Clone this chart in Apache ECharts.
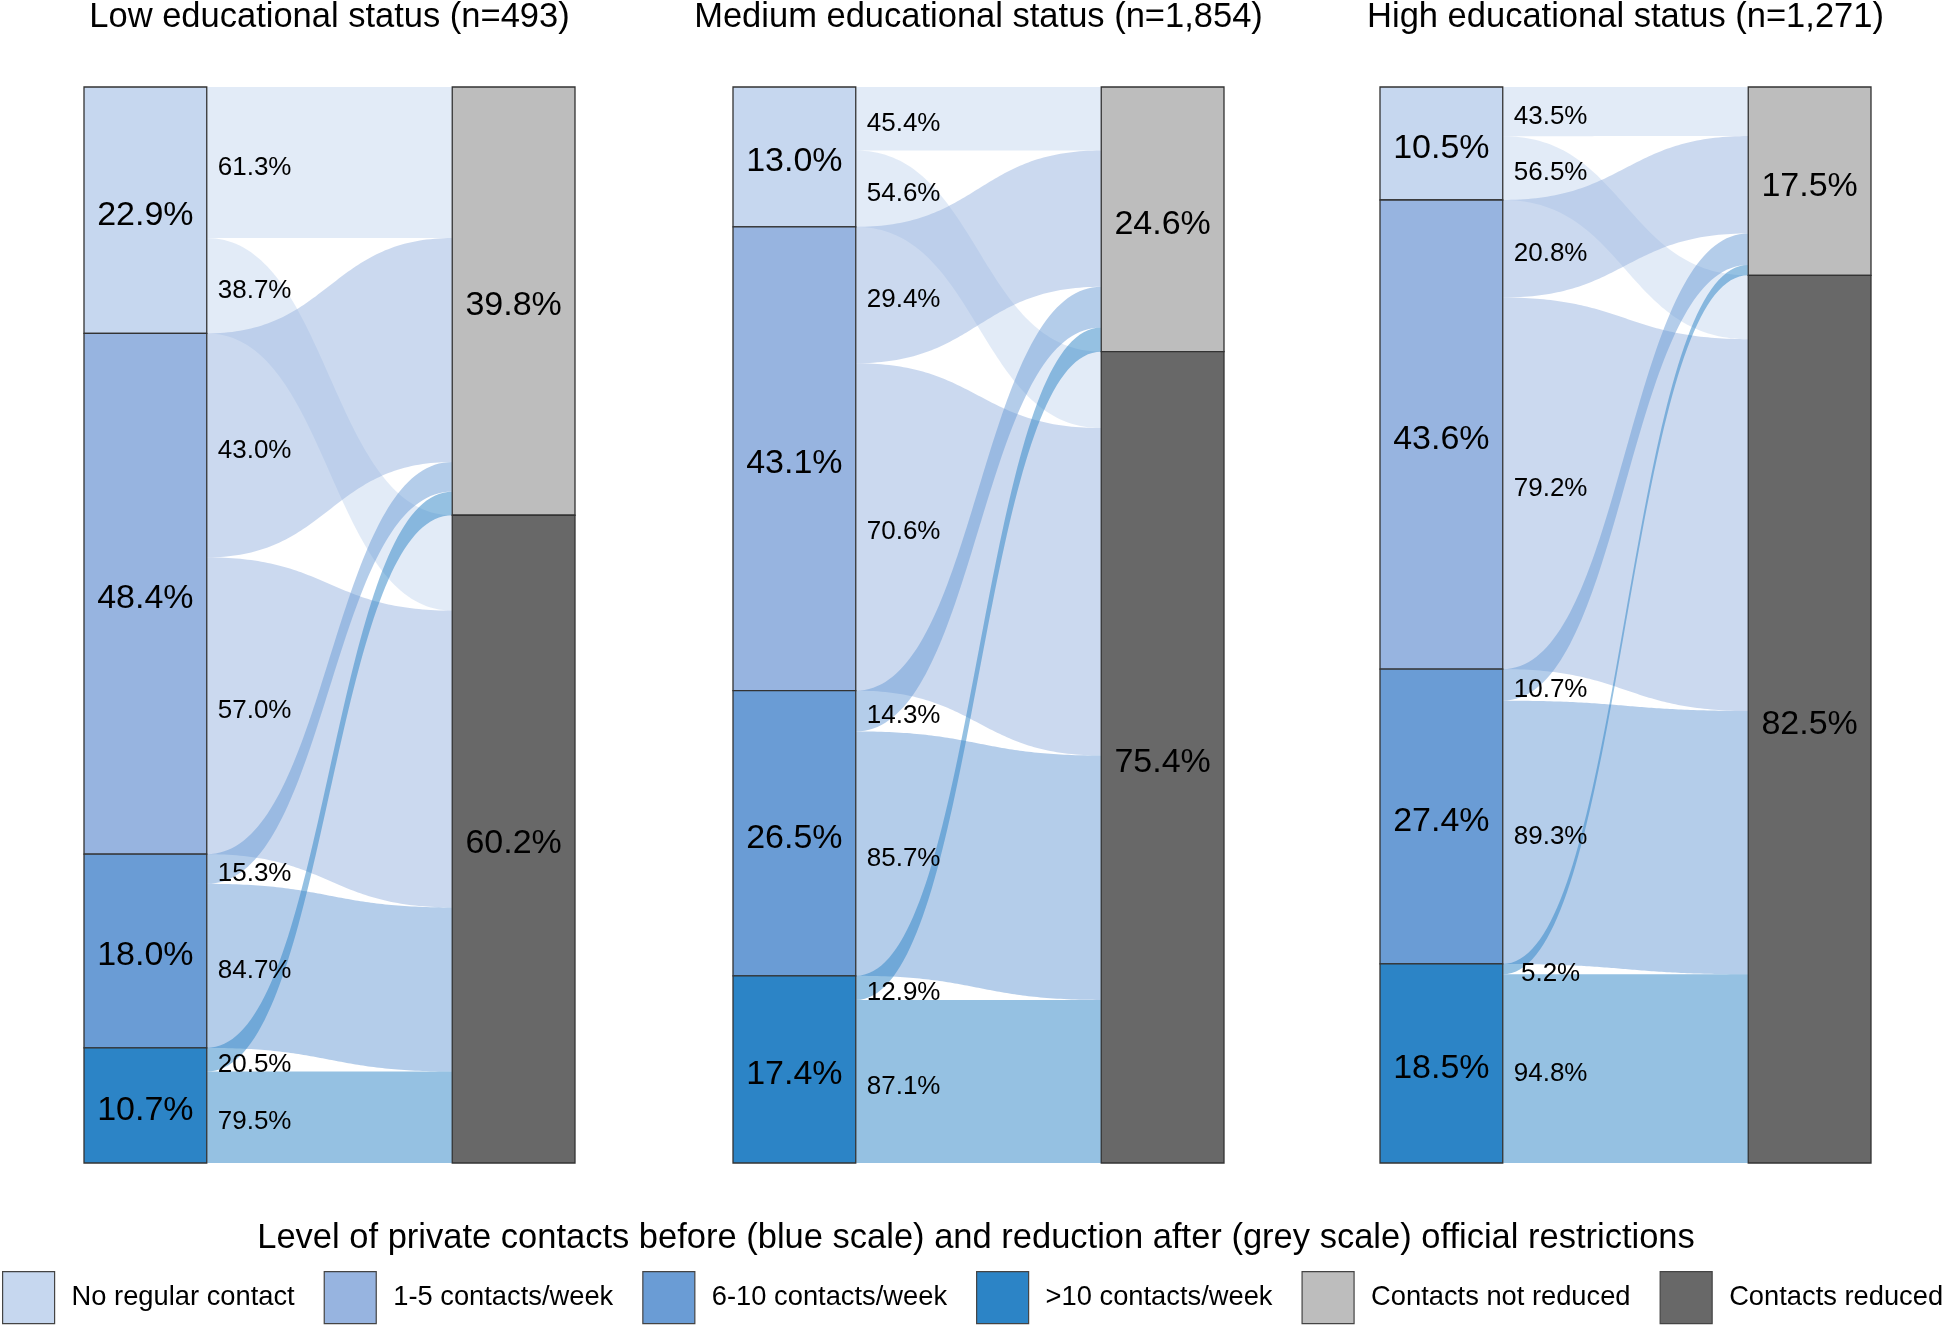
<!DOCTYPE html>
<html>
<head>
<meta charset="utf-8">
<script src="https://cdn.jsdelivr.net/npm/echarts@6/dist/echarts.min.js"></script>
<style>
html,body{margin:0;padding:0;background:#ffffff;}
#chart{width:1944px;height:1325px;}
</style>
</head>
<body>
<div id="chart"></div>
<script>
// ---------------- data ----------------
const panelTitles = [
  'Low educational status (n=493)',
  'Medium educational status (n=1,854)',
  'High educational status (n=1,271)'
];
const beforeCategories = ['No regular contact', '1-5 contacts/week', '6-10 contacts/week', '>10 contacts/week'];
const afterCategories = ['Contacts not reduced', 'Contacts reduced'];
const legendTitle = 'Level of private contacts before (blue scale) and reduction after (grey scale) official restrictions';

// share (%) of each panel in the before categories
const beforeLow = [22.9, 48.4, 18.0, 10.7];
const beforeMedium = [13.0, 43.1, 26.5, 17.4];
const beforeHigh = [10.5, 43.6, 27.4, 18.5];
// share (%) of each panel in the after categories
const afterLow = [39.8, 60.2];
const afterMedium = [24.6, 75.4];
const afterHigh = [17.5, 82.5];
// within each before category: % not reduced / % reduced
const notReducedLow = [61.3, 43.0, 15.3, 20.5];
const reducedLow = [38.7, 57.0, 84.7, 79.5];
const notReducedMedium = [45.4, 29.4, 14.3, 12.9];
const reducedMedium = [54.6, 70.6, 85.7, 87.1];
const notReducedHigh = [43.5, 20.8, 10.7, 5.2];
const reducedHigh = [56.5, 79.2, 89.3, 94.8];

// ---------------- style ----------------
const FONT = '"Liberation Sans", Arial, Helvetica, sans-serif';
const beforeColors = ['#c6d7ef', '#97b4e0', '#6a9cd5', '#2c84c6'];
const afterColors = ['#bdbdbd', '#686868'];
const nodeBorder = '#333333';
const flowAlpha = 0.5;
const gridLefts = [84, 733, 1380];
const gridTop = 87, gridWidth = 491, gridHeight = 1076;
const curveCtrl = 0.5;
const labelDy = 5;

const panels = [
  {before: beforeLow, after: afterLow, shares: [notReducedLow, reducedLow]},
  {before: beforeMedium, after: afterMedium, shares: [notReducedMedium, reducedMedium]},
  {before: beforeHigh, after: afterHigh, shares: [notReducedHigh, reducedHigh]}
];

function hexToRgba(hex, a) {
  const n = parseInt(hex.slice(1), 16);
  return 'rgba(' + ((n >> 16) & 255) + ',' + ((n >> 8) & 255) + ',' + (n & 255) + ',' + a + ')';
}
function fmt(v) {
  const s = v.toFixed(1);
  return (s.length < 4 ? ' ' : '') + s + '%';
}

function buildPanel(P) {
  const nodes = [];
  let c = 0;
  P.before.forEach((v, i) => { nodes.push([0, i, c, c + v, v]); c += v; });
  c = 0;
  P.after.forEach((v, j) => { nodes.push([1, j, c, c + v, v]); c += v; });
  const val = P.before.map((b, i) => [b * P.shares[0][i] / 100, b * P.shares[1][i] / 100]);
  const tSum = [0, 1].map(j => val.reduce((s, r) => s + r[j], 0));
  const tStart = [0, P.after[0]];
  const tOff = [0, 0];
  const flows = [], labels = [], labelTexts = [];
  let bStart = 0;
  P.before.forEach((b, i) => {
    let off = bStart;
    const tot = P.shares[0][i] + P.shares[1][i];
    [0, 1].forEach(j => {
      const sh = b * P.shares[j][i] / tot;
      const sy0 = off, sy1 = off + sh; off = sy1;
      const th = val[i][j] * P.after[j] / tSum[j];
      const ty0 = tStart[j] + tOff[j], ty1 = ty0 + th; tOff[j] += th;
      flows.push([i, j, sy0, sy1, ty0, ty1]);
      labels.push([(sy0 + sy1) / 2]);
      labelTexts.push(fmt(P.shares[j][i]));
    });
    bStart += b;
  });
  return {nodes, flows, labels, labelTexts};
}

function bez(p, q, t) {
  const dx = q[0] - p[0];
  const c1x = p[0] + curveCtrl * dx, c2x = q[0] - curveCtrl * dx;
  const u = 1 - t;
  const x = u*u*u*p[0] + 3*u*u*t*c1x + 3*u*t*t*c2x + t*t*t*q[0];
  const y = u*u*u*p[1] + 3*u*u*t*p[1] + 3*u*t*t*q[1] + t*t*t*q[1];
  return [x, y];
}

function renderFlow(params, api) {
  const i = api.value(0);
  const a0 = api.coord([1, api.value(2)]), a1 = api.coord([1, api.value(3)]);
  const b0 = api.coord([3, api.value(4)]), b1 = api.coord([3, api.value(5)]);
  const N = 80, pts = [];
  for (let k = 0; k <= N; k++) pts.push(bez(a0, b0, k / N));
  for (let k = N; k >= 0; k--) pts.push(bez(a1, b1, k / N));
  return {
    type: 'polygon',
    shape: {points: pts},
    style: {fill: hexToRgba(beforeColors[i], flowAlpha), stroke: null}
  };
}

function renderNode(params, api) {
  const side = api.value(0), k = api.value(1);
  const x0 = side === 0 ? 0 : 3, x1 = x0 + 1;
  const p0 = api.coord([x0, api.value(2)]), p1 = api.coord([x1, api.value(3)]);
  const color = side === 0 ? beforeColors[k] : afterColors[k];
  return {
    type: 'group',
    children: [
      {type: 'rect', shape: {x: p0[0], y: p0[1], width: p1[0] - p0[0], height: p1[1] - p0[1]},
       style: {fill: color, stroke: nodeBorder, lineWidth: 1.3}},
      {type: 'text', x: (p0[0] + p1[0]) / 2, y: (p0[1] + p1[1]) / 2 + labelDy,
       style: {text: api.value(4).toFixed(1) + '%', fill: '#000', fontSize: 34, fontFamily: FONT,
               align: 'center', verticalAlign: 'middle'}}
    ]
  };
}

function makeLabelRenderer(texts) {
  return function (params, api) {
    const p = api.coord([1, api.value(0)]);
    return {
      type: 'text', x: p[0] + 11, y: p[1] + labelDy,
      style: {text: texts[params.dataIndex], fill: '#000', fontSize: 26, fontFamily: FONT,
              align: 'left', verticalAlign: 'middle'}
    };
  };
}

const grids = [], xAxes = [], yAxes = [], series = [], graphics = [];
panels.forEach((P, p) => {
  const d = buildPanel(P);
  grids.push({left: gridLefts[p], top: gridTop, width: gridWidth, height: gridHeight, containLabel: false});
  xAxes.push({type: 'value', gridIndex: p, min: 0, max: 4, show: false});
  yAxes.push({type: 'value', gridIndex: p, min: 0, max: 100, inverse: true, show: false});
  series.push({type: 'custom', xAxisIndex: p, yAxisIndex: p, z: 1, silent: true,
               renderItem: renderFlow, data: d.flows});
  series.push({type: 'custom', xAxisIndex: p, yAxisIndex: p, z: 3, silent: true,
               renderItem: renderNode, data: d.nodes});
  series.push({type: 'custom', xAxisIndex: p, yAxisIndex: p, z: 4, silent: true,
               renderItem: makeLabelRenderer(d.labelTexts), data: d.labels});
  graphics.push({type: 'text', x: gridLefts[p] + gridWidth / 2, y: 17,
                 style: {text: panelTitles[p], fill: '#000', fontSize: 34.5, fontFamily: FONT,
                         align: 'center', verticalAlign: 'middle'}});
});
graphics.push({type: 'text', x: 976, y: 1238,
               style: {text: legendTitle, fill: '#000', fontSize: 34.5, fontFamily: FONT,
                       align: 'center', verticalAlign: 'middle'}});

// legend-only series
beforeCategories.concat(afterCategories).forEach((name, k) => {
  series.push({type: 'custom', name: name, coordinateSystem: 'none', renderItem: () => null, data: [],
               itemStyle: {color: k < 4 ? beforeColors[k] : afterColors[k - 4]}});
});

const chart = echarts.init(document.getElementById('chart'), null, {renderer: 'canvas'});
chart.setOption({
  animation: false,
  backgroundColor: '#ffffff',
  grid: grids,
  xAxis: xAxes,
  yAxis: yAxes,
  graphic: graphics,
  legend: {
    data: beforeCategories.concat(afterCategories),
    left: 2, top: 1271, padding: 0,
    itemWidth: 52, itemHeight: 52, itemGap: 29,
    icon: 'rect', selectedMode: false,
    itemStyle: {borderColor: '#444444', borderWidth: 1.2},
    textStyle: {fontSize: 27.3, fontFamily: FONT, color: '#000', padding: [2, 0, 0, 12]}
  },
  series: series
});
</script>
</body>
</html>
